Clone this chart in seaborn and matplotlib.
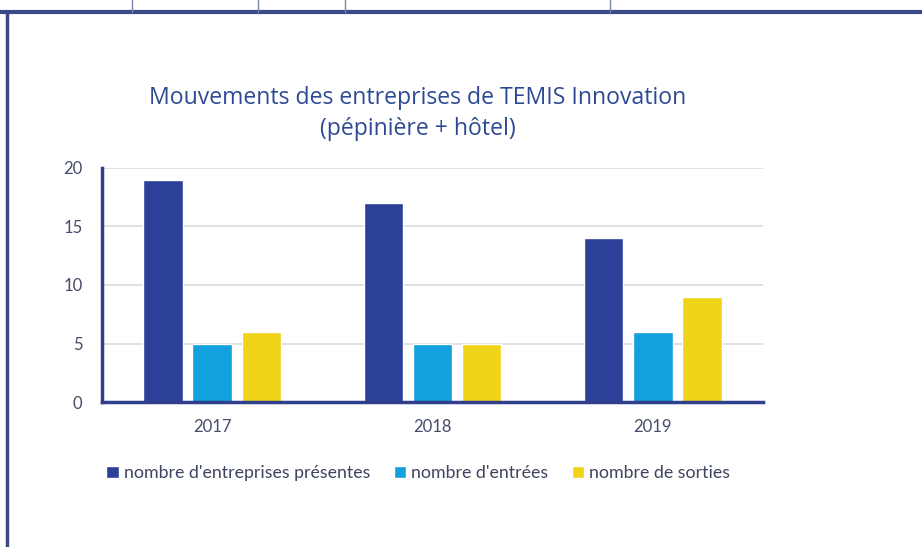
import matplotlib
matplotlib.use("Agg")
import matplotlib.pyplot as plt
import matplotlib.lines as mlines
import pandas as pd
import seaborn as sns

# donnees
annees = ["2017", "2018", "2019"]
presentes = [19, 17, 14]
entrees = [5, 5, 6]
sorties = [6, 5, 9]
series = ["nombre d'entreprises présentes", "nombre d'entrées", "nombre de sorties"]
couleurs = ["#2c409a", "#12a1de", "#f0d419"]
yticks = [0, 5, 10, 15, 20]

df = pd.DataFrame({
    "annee": annees * 3,
    "valeur": presentes + entrees + sorties,
    "serie": [series[0]] * 3 + [series[1]] * 3 + [series[2]] * 3,
})

sns.set_style("white")
plt.rcParams["font.family"] = ["Lato", "DejaVu Sans"]

fig = plt.figure(figsize=(9.22, 5.47), dpi=100)
ax = fig.add_axes([0.1106, 0.265, 0.717, 0.428])

sns.barplot(data=df, x="annee", y="valeur", hue="serie", palette=couleurs,
            width=0.67, gap=0.2, saturation=1, ax=ax, legend=True)

ax.set_ylim(0, 20)
ax.set_xlim(-0.5, 2.5)
ax.set_yticks(yticks)
ax.yaxis.grid(True, color="#dcdcdc", linewidth=1.2)
ax.set_axisbelow(True)
ax.set_xlabel("")
ax.set_ylabel("")
for s in ["top", "right"]:
    ax.spines[s].set_visible(False)
for s in ["left", "bottom"]:
    ax.spines[s].set_color("#2f3f8c")
    ax.spines[s].set_linewidth(2.5)
ax.tick_params(axis="both", length=0, labelsize=12, labelcolor="#464c68")
ax.tick_params(axis="y", pad=14)
ax.tick_params(axis="x", pad=12)

fig.text(0.453, 0.7925, "Mouvements des entreprises de TEMIS Innovation\n(pépinière + hôtel)",
         ha="center", va="center", fontsize=16.6, color="#2f4a94",
         family=["Open Sans", "DejaVu Sans"], linespacing=1.35)

leg = ax.legend(loc="center left", bbox_to_anchor=(0.098, 0.135), bbox_transform=fig.transFigure,
                ncol=3, frameon=False, fontsize=12.8, handlelength=0.7, handleheight=0.7,
                handletextpad=0.3, columnspacing=1.3, labelcolor="#3f4460")

# cadre du document
navy = "#3b4a86"
fig.add_artist(mlines.Line2D([0, 1], [1 - 12 / 547, 1 - 12 / 547], color=navy, linewidth=3))
fig.add_artist(mlines.Line2D([7 / 922, 7 / 922], [0, 1 - 12 / 547], color=navy, linewidth=2.5))
for xp in [132, 258, 345, 610]:
    fig.add_artist(mlines.Line2D([xp / 922, xp / 922], [1 - 12 / 547, 1], color="#7a84aa", linewidth=1))

fig.savefig("out.png", dpi=100)
